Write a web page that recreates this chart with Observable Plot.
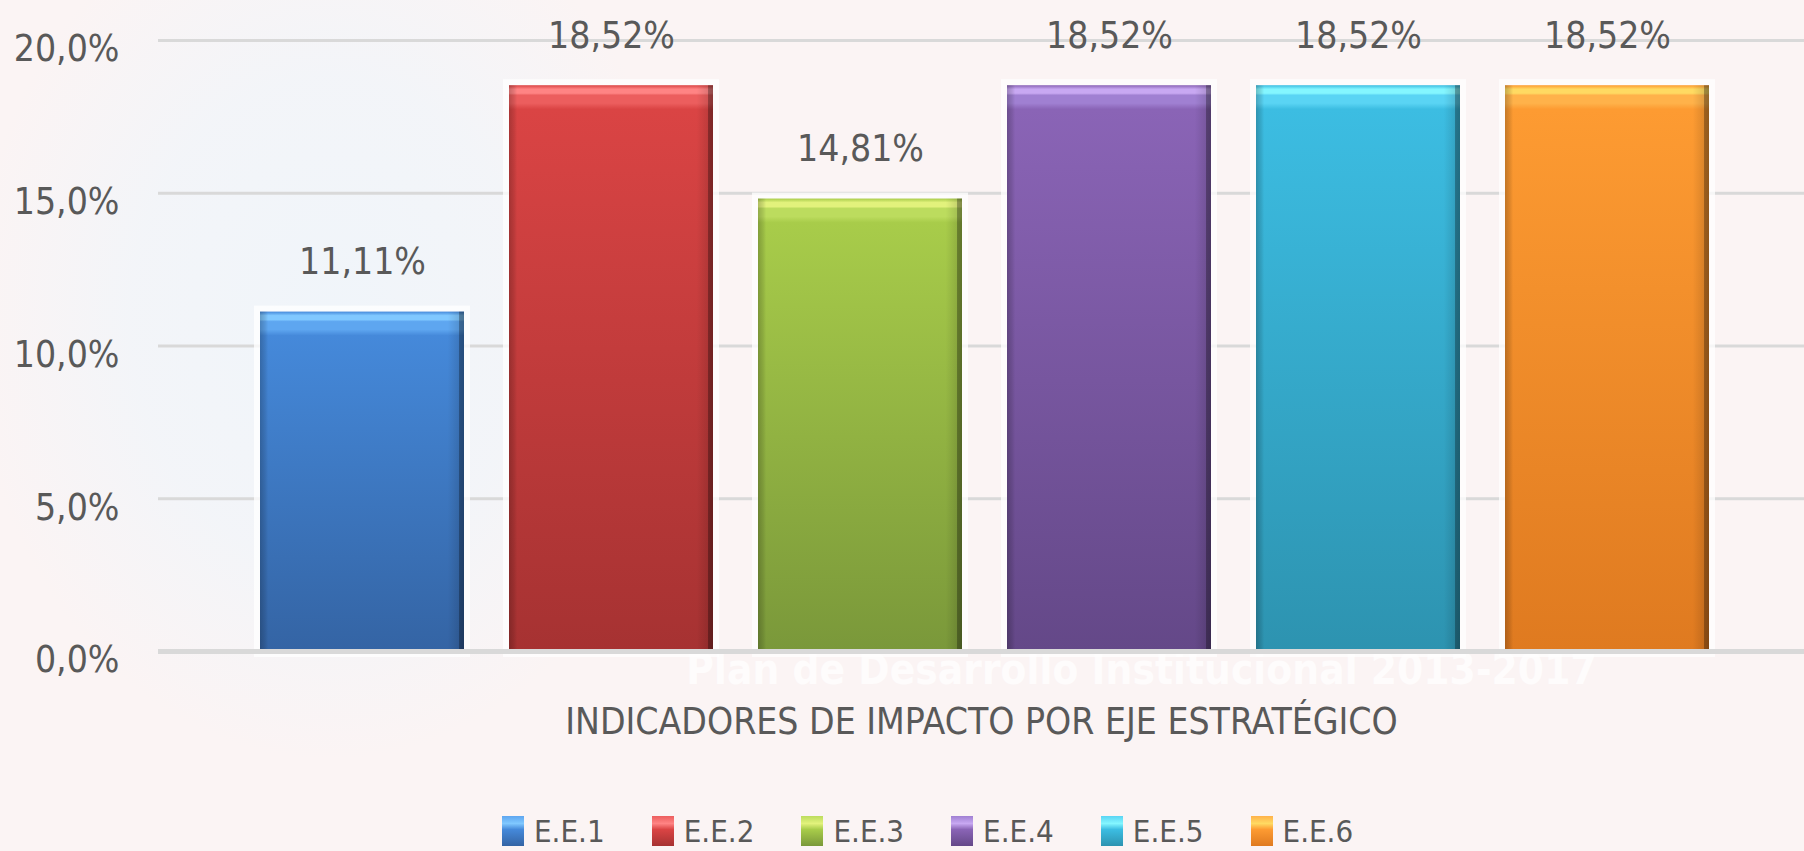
<!DOCTYPE html>
<html><head><meta charset="utf-8">
<script src="https://cdn.jsdelivr.net/npm/d3@7"></script>
<script src="https://cdn.jsdelivr.net/npm/@observablehq/plot@0.6"></script>
<style>
html,body{margin:0;padding:0;}
body{width:1804px;height:851px;overflow:hidden;position:relative;background:#fbf4f4;
  font-family:"Liberation Sans Narrow","DejaVu Sans Condensed","Liberation Sans",sans-serif;}
#bg{position:absolute;left:0;top:0;width:1804px;height:851px;
  background:radial-gradient(ellipse 360px 440px at 330px 320px, rgba(240,245,250,1) 0%, rgba(242,245,249,0.9) 55%, rgba(251,244,244,0) 100%);}
#chart{position:absolute;left:0;top:0;}
#legend{position:absolute;left:502px;top:813px;}
.lg-swatch{margin-right:47px !important;}
.lg-swatch > svg{margin-right:10px !important;}
</style></head>
<body><div id="bg"></div><div id="chart"></div><div id="legend"></div>
<script>
const categories = ["E.E.1", "E.E.2", "E.E.3", "E.E.4", "E.E.5", "E.E.6"];
const values = [11.11, 18.52, 14.81, 18.52, 18.52, 18.52];
const yTicks = [0, 5, 10, 15, 20];
const xTitle = "INDICADORES DE IMPACTO POR EJE ESTRATÉGICO";
const watermark = "Plan de Desarrollo Institucional 2013-2017";
const hlColors = ["#80c8ff", "#ff8484", "#e2f27c", "#c8a8f2", "#84f6ff", "#ffda62"];
const lightColors = ["#5ea6f0", "#ec5e5e", "#bcdc5e", "#a080d2", "#5ad4f4", "#ffb24a"];
const topColors = ["#4589da", "#da4444", "#a8cc4a", "#8a64b6", "#3cbde2", "#fd9b32"];
const bottomColors = ["#3464a4", "#a63232", "#7a983a", "#644888", "#2d93b0", "#df7a20"];

const FONT = '"Liberation Sans Narrow","DejaVu Sans Condensed","Liberation Sans",sans-serif';
const data = categories.map((c, i) => ({cat: c, value: values[i]}));
const barFills = categories.map((c, i) => `url(#barg${i})`);
const legFills = categories.map((c, i) => `url(#lg${i})`);
const fmtTick = d => d.toFixed(1).replace(".", ",") + "%";
const fmtVal = d => d.toFixed(2).replace(".", ",") + "%";

const chart = Plot.plot({
  width: 1804, height: 780,
  marginLeft: 158, marginRight: 0, marginTop: 40, marginBottom: 129,
  style: {background: "transparent", fontFamily: FONT, color: "#595959", overflow: "visible"},
  x: {domain: categories, padding: 0.18, insetLeft: 56, insetRight: 49, axis: null},
  y: {domain: [0, 20], label: null},
  color: {domain: categories, range: barFills},
  marks: [
    Plot.text([watermark], {frameAnchor: "bottom", dx: 160, dy: 32, fontSize: 42, fontWeight: "bold", fill: "#ffffff", fillOpacity: 0.75}),
    Plot.gridY(yTicks, {stroke: "#d9d9d9", strokeOpacity: 1, strokeWidth: 3}),
    Plot.axisY(yTicks, {label: null, tickSize: 0, tickPadding: 39, tickFormat: fmtTick, fontSize: 37, dy: 9, fill: "#595959"}),
    Plot.barY(data, {x: "cat", y: "value", fill: "#ffffff", fillOpacity: 0.75, inset: -6}),
    Plot.barY(data, {x: "cat", y: "value", fill: "cat"}),
    Plot.barY(data, {x: "cat", y: "value", fill: "url(#edges)"}),
    Plot.ruleY([0], {stroke: "#d9d9d9", strokeWidth: 5}),
    Plot.text(data, {x: "cat", y: "value", text: d => fmtVal(d.value), dy: -50, fontSize: 37, fill: "#595959"}),
    Plot.text([xTitle], {frameAnchor: "bottom", dy: 82, fontSize: 37, fill: "#595959"})
  ]
});
document.getElementById("chart").appendChild(chart);

// gradients (styling only), positioned from the library's own y scale
const y = chart.scale("y");
const y0 = y.apply(0);
const defs = d3.select(chart).insert("defs", ":first-child");
categories.forEach((c, i) => {
  const top = y.apply(values[i]);
  const h = y0 - top;
  const g = defs.append("linearGradient").attr("id", `barg${i}`)
    .attr("gradientUnits", "userSpaceOnUse").attr("x1", 0).attr("x2", 0).attr("y1", top).attr("y2", y0);
  [[0, topColors[i]], [4 / h, hlColors[i]], [8 / h, hlColors[i]], [10 / h, lightColors[i]], [18 / h, lightColors[i]], [24 / h, topColors[i]], [1, bottomColors[i]]]
    .forEach(([o, col]) => g.append("stop").attr("offset", Math.min(1, o)).attr("stop-color", col));
  const lg = defs.append("linearGradient").attr("id", `lg${i}`).attr("x1", 0).attr("x2", 0).attr("y1", 0).attr("y2", 1);
  [[0, lightColors[i]], [0.25, hlColors[i]], [0.45, topColors[i]], [1, bottomColors[i]]]
    .forEach(([o, col]) => lg.append("stop").attr("offset", o).attr("stop-color", col));
});
const eg = defs.append("linearGradient").attr("id", "edges").attr("x1", 0).attr("x2", 1).attr("y1", 0).attr("y2", 0);
[[0, "#000", 0.22], [0.025, "#000", 0.10], [0.04, "#000", 0], [0.92, "#000", 0],
 [0.975, "#000", 0.12], [0.978, "#000", 0.38], [1, "#000", 0.42]]
  .forEach(([o, col, op]) => eg.append("stop").attr("offset", o).attr("stop-color", col).attr("stop-opacity", op));

const legend = Plot.legend({
  color: {type: "ordinal", domain: categories, range: legFills},
  swatchWidth: 22, swatchHeight: 30, className: "lg",
  style: {fontSize: "31px", fontFamily: FONT, color: "#595959", background: "transparent"}
});
document.getElementById("legend").appendChild(legend);
</script>
</body></html>
